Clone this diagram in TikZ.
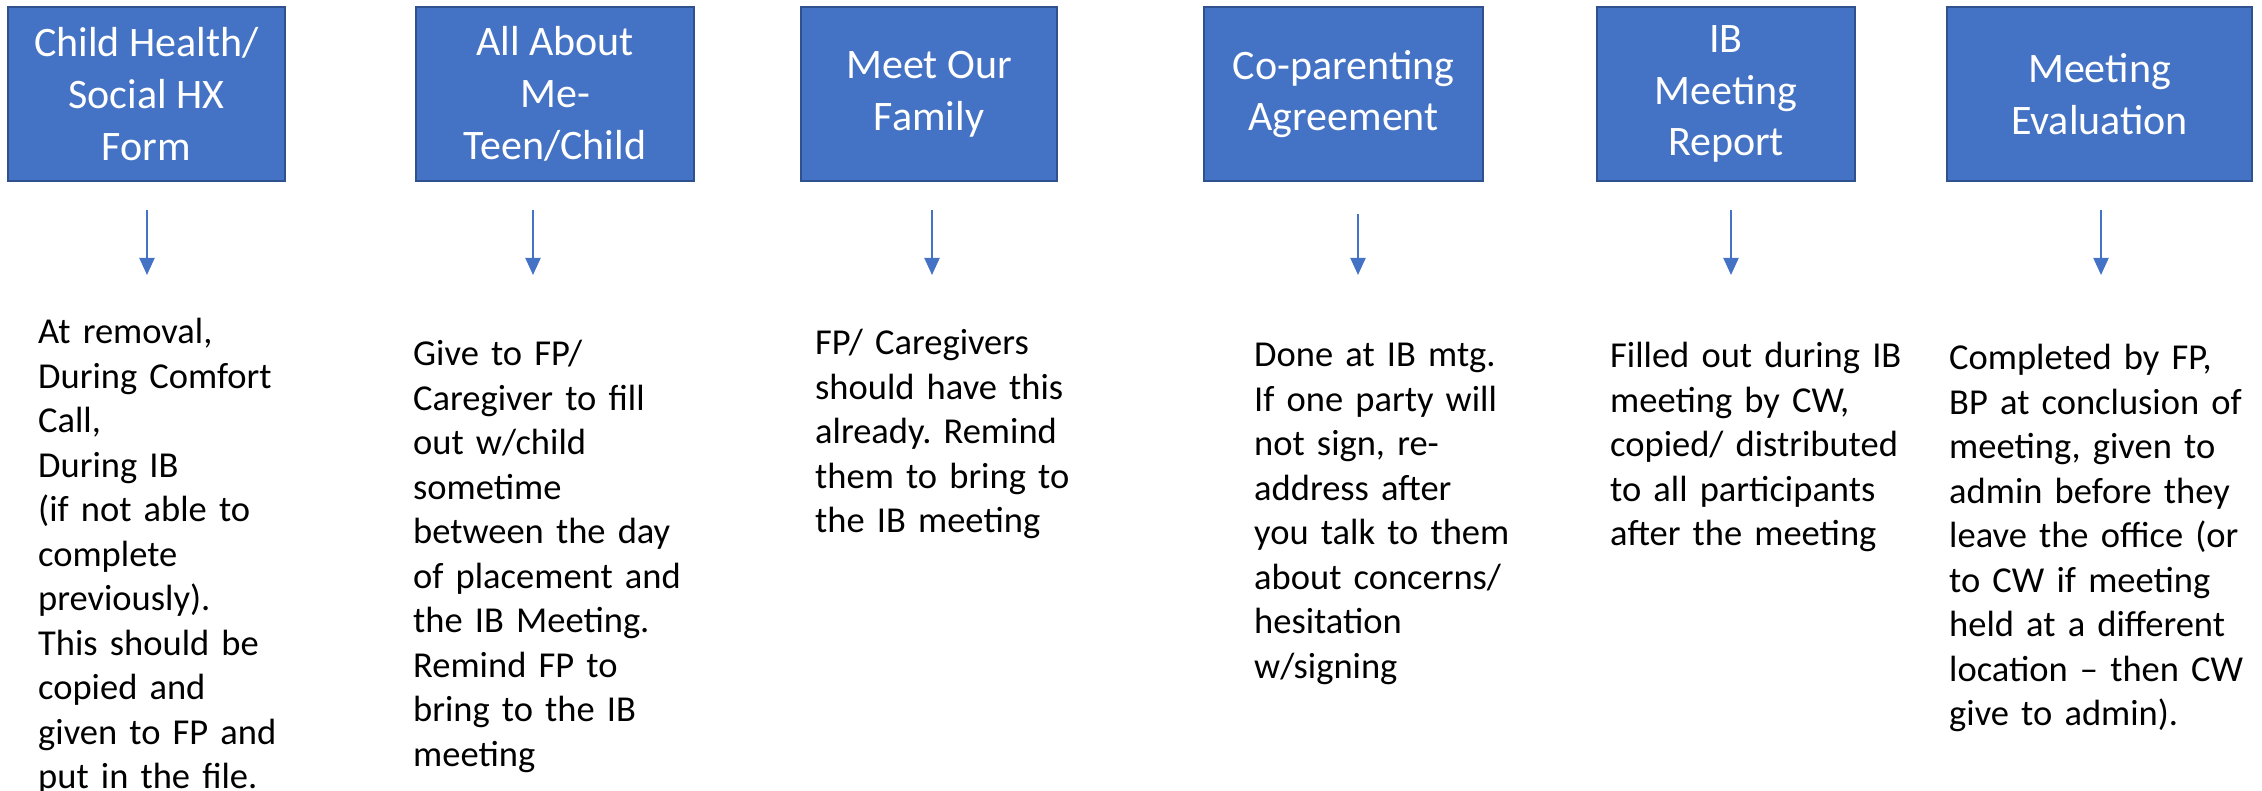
\documentclass[tikz,border=0pt]{standalone}
\usepackage{fontspec}
\setmainfont{Carlito}
\usetikzlibrary{arrows.meta}
\definecolor{boxblue}{HTML}{4472C4}
\definecolor{boxline}{HTML}{2F528F}
\frenchspacing
\tikzstyle{formbox}=[rectangle,draw=boxline,fill=boxblue,line width=2pt,
                     text=white,align=center,inner sep=0pt,minimum height=174pt,
                     font=\fontsize{42}{51.7}\selectfont]
\tikzstyle{note}=[anchor=base west,align=left,text width=420pt,inner sep=0pt,
                  font=\fontsize{36.5}{44.5}\selectfont]
\tikzstyle{down}=[draw=boxblue,line width=2pt,
                  -{Triangle[width=15pt,length=17pt]}]

\begin{document}
\begin{tikzpicture}[x=1pt,y=-1pt]
    \useasboundingbox (0,0) rectangle (2262,791);
    \newcommand{\ytop}{210}
    \newcommand{\ybot}{275}
    % forms
    \node (b1) at ( 146.5,94) [formbox,minimum width=277pt]{Child Health/\\Social HX\\Form};
    \node (b2) at ( 555,  94) [formbox,minimum width=278pt]{All About\\Me-\\Teen/Child};
    \node (b3) at ( 929,  94) [formbox,minimum width=256pt]{Meet Our\\Family};
    \node (b4) at (1343.5,94) [formbox,minimum width=279pt]{Co-parenting\\Agreement};
    \node (b5) at (1726,  94) [formbox,minimum width=258pt]{IB\\Meeting\\Report};
    \node (b6) at (2099.5,94) [formbox,minimum width=305pt]{Meeting\\Evaluation};
    % what to do with each form
    \node (n1) at (  38,344) [note]{At removal,\\During Comfort\\Call,\\During IB\\(if not able to\\complete\\previously).\\This should be\\copied and\\given to FP and\\put in the file.};
    \node (n2) at ( 413,366) [note]{Give to FP/\\Caregiver to fill\\out w/child\\sometime\\between the day\\of placement and\\the IB Meeting.\\Remind FP to\\bring to the IB\\meeting};
    \node (n3) at ( 815,355) [note]{FP/ Caregivers\\should have this\\already. Remind\\them to bring to\\the IB meeting};
    \node (n4) at (1254,367) [note]{Done at IB mtg.\\If one party will\\not sign, re-\\address after\\you talk to them\\about concerns/\\hesitation\\w/signing};
    \node (n5) at (1610,368) [note]{Filled out during IB\\meeting by CW,\\copied/ distributed\\to all participants\\after the meeting};
    \node (n6) at (1949,370) [note]{Completed by FP,\\BP at conclusion of\\meeting, given to\\admin before they\\leave the office (or\\to CW if meeting\\held at a different\\location -- then CW\\give to admin).};
    % arrows
    \coordinate (a1) at ( 147,\ytop); \coordinate (e1) at ( 147,\ybot);
    \coordinate (a2) at ( 533,\ytop); \coordinate (e2) at ( 533,\ybot);
    \coordinate (a3) at ( 932,\ytop); \coordinate (e3) at ( 932,\ybot);
    \coordinate (a4) at (1358,214);   \coordinate (e4) at (1358,\ybot);
    \coordinate (a5) at (1731,\ytop); \coordinate (e5) at (1731,\ybot);
    \coordinate (a6) at (2101,\ytop); \coordinate (e6) at (2101,\ybot);
    \draw[down] (a1) -- (e1);
    \draw[down] (a2) -- (e2);
    \draw[down] (a3) -- (e3);
    \draw[down] (a4) -- (e4);
    \draw[down] (a5) -- (e5);
    \draw[down] (a6) -- (e6);
\end{tikzpicture}
\end{document}
